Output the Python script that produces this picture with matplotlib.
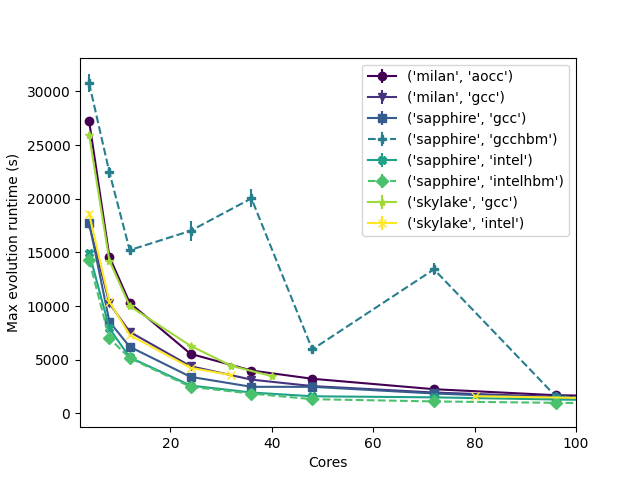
import numpy as np
import matplotlib
matplotlib.use('Agg')
import matplotlib.pyplot as plt


# (cluster, compiler) groups as they appear in the legend
groups = [
    ('milan', 'aocc'),
    ('milan', 'gcc'),
    ('sapphire', 'gcc'),
    ('sapphire', 'gcchbm'),
    ('sapphire', 'intel'),
    ('sapphire', 'intelhbm'),
    ('skylake', 'gcc'),
    ('skylake', 'intel'),
]

milan_cores = [4, 8, 12, 24, 36, 48, 72, 96, 128]
sapphire_cores = [4, 8, 12, 24, 36, 48, 72, 96, 112]
skylake_gcc_cores = [4, 8, 12, 24, 32, 40]
skylake_intel_cores = [4, 8, 12, 24, 32, 40, 80, 120]

milan_aocc = [27230, 14590, 10300, 5550, 4000, 3230, 2260, 1700, 1450]
milan_gcc = [17600, 10250, 7600, 4400, 3150, 2550, 1950, 1550, 1350]
sapphire_gcc = [17760, 8540, 6210, 3410, 2480, 2480, 1860, 1430, 1250]
sapphire_gcchbm = [30750, 22450, 15210, 17010, 20030, 5960, 13420, 1600, 1300]
sapphire_intel = [14960, 7920, 5220, 2600, 1950, 1600, 1500, 1300, 1200]
sapphire_intelhbm = [14280, 7000, 5150, 2480, 1850, 1330, 1120, 990, 950]
skylake_gcc = [25930, 14220, 10000, 6300, 4440, 3480]
skylake_intel = [18570, 10400, 7300, 4250, 3570, np.nan, 1610, 1290]

milan_aocc_err = [250, 200, 150, 120, 100, 80, 60, 50, 50]
milan_gcc_err = [200, 180, 150, 100, 80, 60, 50, 50, 50]
sapphire_gcc_err = [250, 200, 150, 100, 80, 60, 50, 50, 50]
sapphire_gcchbm_err = [850, 500, 450, 930, 840, 300, 550, 150, 150]
sapphire_intel_err = [250, 200, 150, 100, 80, 60, 50, 50, 50]
sapphire_intelhbm_err = [250, 200, 150, 100, 80, 60, 50, 50, 50]
skylake_gcc_err = [250, 200, 150, 120, 100, 80]
skylake_intel_err = [300, 200, 150, 120, 100, 0, 60, 50]

series = [
    (milan_cores, milan_aocc, milan_aocc_err),
    (milan_cores, milan_gcc, milan_gcc_err),
    (sapphire_cores, sapphire_gcc, sapphire_gcc_err),
    (sapphire_cores, sapphire_gcchbm, sapphire_gcchbm_err),
    (sapphire_cores, sapphire_intel, sapphire_intel_err),
    (sapphire_cores, sapphire_intelhbm, sapphire_intelhbm_err),
    (skylake_gcc_cores, skylake_gcc, skylake_gcc_err),
    (skylake_intel_cores, skylake_intel, skylake_intel_err),
]

markers = ['o', 'v', 's', 'P', 'X', 'D', '*', 'x']
colors = plt.cm.viridis(np.linspace(0, 1, len(groups)))

fig, ax = plt.subplots(figsize=(6.4, 4.8), dpi=100)

for i, (group, (x, y, err)) in enumerate(zip(groups, series)):
    linestyle = '--' if 'hbm' in group[1] else '-'
    ax.errorbar(x, y, yerr=err, marker=markers[i], color=colors[i],
                linestyle=linestyle, label=str(group))

ax.set_xlim(2.2, 100)
ax.set_ylim(-1280, 33140)
ax.set_xlabel('Cores')
ax.set_ylabel('Max evolution runtime (s)')
ax.legend(loc='upper right')

fig.savefig('out.png')
